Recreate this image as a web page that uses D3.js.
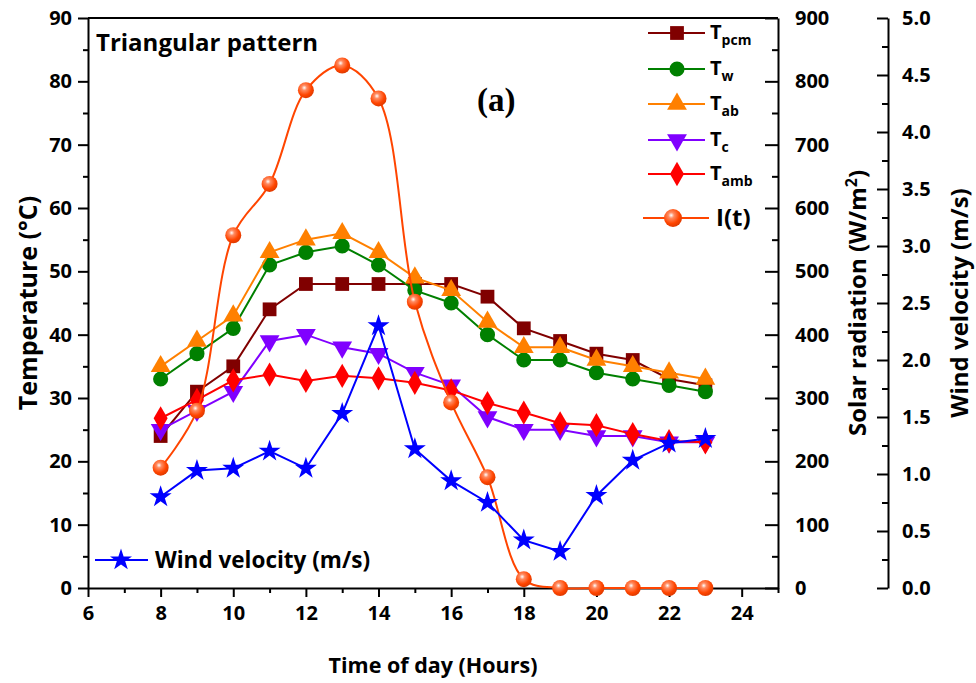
<!DOCTYPE html>
<html>
<head>
<meta charset="utf-8">
<script src="https://cdn.jsdelivr.net/npm/d3@7"></script>
<style>
  body { margin: 0; background: #fff; }
  text { font-family: "Open Sans", "Noto Sans", sans-serif; font-weight: bold; }
</style>
</head>
<body>
<svg id="chart" width="976" height="683"></svg>
<script>
// hours of the day
const hours = [8, 9, 10, 11, 12, 13, 14, 15, 16, 17, 18, 19, 20, 21, 22, 23];

// temperatures (°C)
const tPcm = [24, 31, 35, 44, 48, 48, 48, 48, 48, 46, 41, 39, 37, 36, 33, 32];
const tW   = [33, 37, 41, 51, 53, 54, 51, 47, 45, 40, 36, 36, 34, 33, 32, 31];
const tAb  = [35, 39, 43, 53, 55, 56, 53, 49, 47, 42, 38, 38, 36, 35, 34, 33];
const tC   = [25, 28, 31, 39, 40, 38, 37, 34, 32, 27, 25, 25, 24, 24, 23, 23];
const tAmb = [26.8, 29.7, 32.8, 33.7, 32.7, 33.5, 33.1, 32.4, 31.2, 29.2, 27.7, 26, 25.7, 24.3, 23.2, 23];

// solar radiation (W/m2)
const solar = [190, 280, 557, 638, 786, 825, 773, 452, 293, 175, 14, 0, 0, 0, 0, 0];

// wind velocity (m/s)
const wind = [0.8, 1.03, 1.05, 1.2, 1.05, 1.53, 2.3, 1.22, 0.94, 0.75, 0.42, 0.32, 0.81, 1.12, 1.27, 1.31];

const xTicks = [6, 8, 10, 12, 14, 16, 18, 20, 22, 24];
const tempTicks = [0, 10, 20, 30, 40, 50, 60, 70, 80, 90];
const solarTicks = [0, 100, 200, 300, 400, 500, 600, 700, 800, 900];
const windTicks = [0, 0.5, 1, 1.5, 2, 2.5, 3, 3.5, 4, 4.5, 5];

const svg = d3.select("#chart");
const mLeft = 88, mRight = 778, mTop = 18, mBottom = 588;

const x = d3.scaleLinear().domain([6, 25]).range([mLeft, mRight]);
const yT = d3.scaleLinear().domain([0, 90]).range([mBottom, mTop]);
const yS = d3.scaleLinear().domain([0, 900]).range([mBottom, mTop]);
const yW = d3.scaleLinear().domain([0, 5]).range([mBottom, mTop]);

svg.append("rect").attr("width", 976).attr("height", 683).attr("fill", "#fff");

function styleAxis(g) {
  g.attr("font-size", 20).attr("font-family", null);
  g.selectAll("path, line").attr("stroke", "#000").attr("stroke-width", 2);
  g.selectAll("text").attr("fill", "#000");
}

// minor ticks first so majors draw on top
svg.append("g").attr("transform", `translate(${mLeft},0)`)
  .call(d3.axisLeft(yT).tickValues(d3.range(5, 90, 10)).tickSize(5).tickFormat("").tickSizeOuter(0))
  .call(styleAxis).call(g => g.select(".domain").remove());
svg.append("g").attr("transform", `translate(${mLeft},0)`)
  .call(d3.axisLeft(yT).tickValues(tempTicks).tickSize(10).tickPadding(6).tickSizeOuter(0))
  .call(styleAxis);

svg.append("g").attr("transform", `translate(0,${mBottom})`)
  .call(d3.axisBottom(x).tickValues(d3.range(7, 26, 2)).tickSize(5).tickFormat("").tickSizeOuter(0))
  .call(styleAxis).call(g => g.select(".domain").remove());
svg.append("g").attr("transform", `translate(0,${mBottom})`)
  .call(d3.axisBottom(x).tickValues(xTicks).tickSize(9).tickPadding(9).tickSizeOuter(0))
  .call(styleAxis);

// top border
svg.append("line").attr("x1", mLeft).attr("x2", mRight).attr("y1", mTop).attr("y2", mTop)
  .attr("stroke", "#000").attr("stroke-width", 2);

// solar axis on right border, ticks inward
svg.append("g").attr("transform", `translate(${mRight},0)`)
  .call(d3.axisRight(yS).tickValues(d3.range(50, 900, 100)).tickSize(-6).tickFormat("").tickSizeOuter(0))
  .call(styleAxis).call(g => g.select(".domain").remove());
svg.append("g").attr("transform", `translate(${mRight},0)`)
  .call(d3.axisRight(yS).tickValues(solarTicks).tickSize(-13).tickPadding(17).tickSizeOuter(0))
  .call(styleAxis);

// wind axis, offset
const windX = 888;
svg.append("g").attr("transform", `translate(${windX},0)`)
  .call(d3.axisRight(yW).tickValues(d3.range(0.25, 5, 0.5)).tickSize(-6).tickFormat("").tickSizeOuter(0))
  .call(styleAxis).call(g => g.select(".domain").remove());
svg.append("g").attr("transform", `translate(${windX},0)`)
  .call(d3.axisRight(yW).tickValues(windTicks).tickSize(-11).tickPadding(14).tickSizeOuter(0).tickFormat(d3.format(".1f")))
  .call(styleAxis);

// axis titles
svg.append("text").attr("transform", "translate(37,303) rotate(-90)")
  .attr("text-anchor", "middle").attr("font-size", 25).text("Temperature (°C)");
const st = svg.append("text").attr("transform", "translate(866,303) rotate(-90)")
  .attr("text-anchor", "middle").attr("font-size", 24);
st.append("tspan").text("Solar radiation (W/m");
st.append("tspan").attr("font-size", 16).attr("dy", -9).text("2");
st.append("tspan").attr("dy", 9).text(")");
svg.append("text").attr("transform", "translate(968,303) rotate(-90)")
  .attr("text-anchor", "middle").attr("font-size", 24).text("Wind velocity (m/s)");
svg.append("text").attr("x", 433).attr("y", 673).attr("text-anchor", "middle")
  .attr("font-size", 21.5).text("Time of day (Hours)");

svg.append("text").attr("x", 96).attr("y", 51).attr("font-size", 24).text("Triangular pattern");
svg.append("text").attr("x", 477).attr("y", 111).attr("font-size", 33)
  .style("font-family", "'Liberation Serif', 'Times New Roman', serif").text("(a)");

// gradient for solar markers
const defs = svg.append("defs");
const grad = defs.append("radialGradient").attr("id", "ball").attr("cx", "40%").attr("cy", "35%").attr("r", "65%");
grad.append("stop").attr("offset", "0%").attr("stop-color", "#fff");
grad.append("stop").attr("offset", "25%").attr("stop-color", "#ff8a60");
grad.append("stop").attr("offset", "70%").attr("stop-color", "#ff4500");
grad.append("stop").attr("offset", "100%").attr("stop-color", "#e03a00");

const series = [
  { name: "pcm", values: tPcm, color: "#800000", symbol: d3.symbolSquare, size: 190, rot: 0 },
  { name: "w", values: tW, color: "#008000", symbol: d3.symbolCircle, size: 180, rot: 0 },
  { name: "ab", values: tAb, color: "#ff8000", symbol: d3.symbolTriangle, size: 170, rot: 0 },
  { name: "c", values: tC, color: "#8000ff", symbol: d3.symbolTriangle, size: 170, rot: 180 },
  { name: "amb", values: tAmb, color: "#ff0000", symbol: d3.symbolDiamond, size: 170, rot: 0 }
];

const line = d3.line().x(d => x(d[0])).y(d => yT(d[1]));

series.forEach(s => {
  const pts = hours.map((h, i) => [h, s.values[i]]);
  svg.append("path").datum(pts).attr("d", line)
    .attr("fill", "none").attr("stroke", s.color).attr("stroke-width", 2);
  svg.append("g").selectAll("path").data(pts).join("path")
    .attr("d", d3.symbol(s.symbol, s.size))
    .attr("transform", d => `translate(${x(d[0])},${yT(d[1])}) rotate(${s.rot})`)
    .attr("fill", s.color);
});

// solar radiation, smoothed
const solarPts = hours.map((h, i) => [h, solar[i]]);
svg.append("path").datum(solarPts)
  .attr("d", d3.line().x(d => x(d[0])).y(d => yS(d[1])).curve(d3.curveCatmullRom.alpha(0.5)))
  .attr("fill", "none").attr("stroke", "#ff4500").attr("stroke-width", 2);
svg.append("g").selectAll("circle").data(solarPts).join("circle")
  .attr("cx", d => x(d[0])).attr("cy", d => yS(d[1])).attr("r", 8)
  .attr("fill", "url(#ball)");

// wind velocity
const windPts = hours.map((h, i) => [h, wind[i]]);
svg.append("path").datum(windPts)
  .attr("d", d3.line().x(d => x(d[0])).y(d => yW(d[1])))
  .attr("fill", "none").attr("stroke", "#0000ff").attr("stroke-width", 2);
svg.append("g").selectAll("path").data(windPts).join("path")
  .attr("d", d3.symbol(d3.symbolStar, 150))
  .attr("transform", d => `translate(${x(d[0])},${yW(d[1])})`)
  .attr("fill", "#0000ff");

// legend (top right)
const legRows = [33, 69, 104, 140, 174];
const lg = svg.append("g");
series.forEach((s, i) => {
  const y = legRows[i];
  lg.append("line").attr("x1", 648).attr("x2", 705).attr("y1", y).attr("y2", y)
    .attr("stroke", s.color).attr("stroke-width", 2);
  lg.append("path").attr("d", d3.symbol(s.symbol, s.size))
    .attr("transform", `translate(677,${y}) rotate(${s.rot})`).attr("fill", s.color);
  const t = lg.append("text").attr("x", 710).attr("y", y + 6).attr("font-size", 20);
  t.append("tspan").text("T");
  t.append("tspan").attr("font-size", 14).attr("dy", 6).text(s.name);
});
lg.append("line").attr("x1", 643).attr("x2", 709).attr("y1", 218).attr("y2", 218)
  .attr("stroke", "#ff4500").attr("stroke-width", 2);
lg.append("circle").attr("cx", 673).attr("cy", 218).attr("r", 9).attr("fill", "url(#ball)");
lg.append("text").attr("x", 716).attr("y", 226).attr("font-size", 24).text("I(t)");

// wind legend
svg.append("line").attr("x1", 95).attr("x2", 148).attr("y1", 560).attr("y2", 560)
  .attr("stroke", "#0000ff").attr("stroke-width", 2);
svg.append("path").attr("d", d3.symbol(d3.symbolStar, 150))
  .attr("transform", "translate(121,560)").attr("fill", "#0000ff");
svg.append("text").attr("x", 155).attr("y", 568).attr("font-size", 22.5).text("Wind velocity (m/s)");
</script>
</body>
</html>
